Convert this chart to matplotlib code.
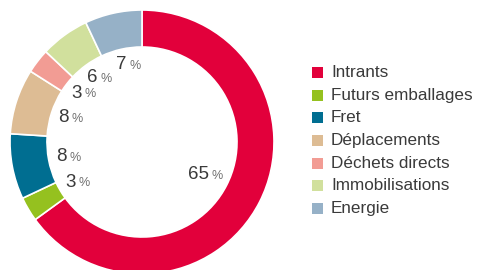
import matplotlib
matplotlib.use('Agg')
import matplotlib.pyplot as plt
from matplotlib.patches import Rectangle
import numpy as np

categories = ['Intrants', 'Futurs emballages', 'Fret', 'Déplacements',
              'Déchets directs', 'Immobilisations', 'Energie']
values = [65, 3, 8, 8, 3, 6, 7]
colors = ['#E2003B', '#95C11F', '#006E91', '#DDBC94',
          '#F29C94', '#D1E09D', '#96B1C7']

plt.rcParams['font.family'] = ['Liberation Sans', 'DejaVu Sans']

fig = plt.figure(figsize=(4.8, 2.7), dpi=100)
ax = fig.add_axes([0, 0, 1, 1])

cx, cy, R = 142, 128, 132
wedges, _ = ax.pie(values, colors=colors, startangle=90, counterclock=False,
                   center=(cx, cy), radius=R,
                   wedgeprops=dict(width=37, edgecolor='white', linewidth=1.2))
ax.set_xlim(0, 480)
ax.set_ylim(0, 270)
ax.set_aspect('equal')
ax.axis('off')

# percentage labels inside the hole
for i, w in enumerate(wedges):
    ang = np.deg2rad((w.theta1 + w.theta2) / 2)
    r = 0.55 * R if values[i] > 50 else 0.6 * R
    x = cx + r * np.cos(ang)
    y = cy + r * np.sin(ang)
    ax.text(x + 2, y, str(values[i]), ha='right', va='center',
            fontsize=13.5, color='#3a3a3a')
    ax.text(x + 5, y - 1, '%', ha='left', va='center',
            fontsize=9, color='#707070')

# legend
for i, cat in enumerate(categories):
    ly = 270 - 72.7 - i * 22.6
    ax.add_patch(Rectangle((312, ly - 5.5), 11, 11, facecolor=colors[i],
                           edgecolor='none'))
    ax.text(331, ly, cat, ha='left', va='center', fontsize=12.3,
            color='#3a3a3a')

fig.savefig('out.png', dpi=100)
